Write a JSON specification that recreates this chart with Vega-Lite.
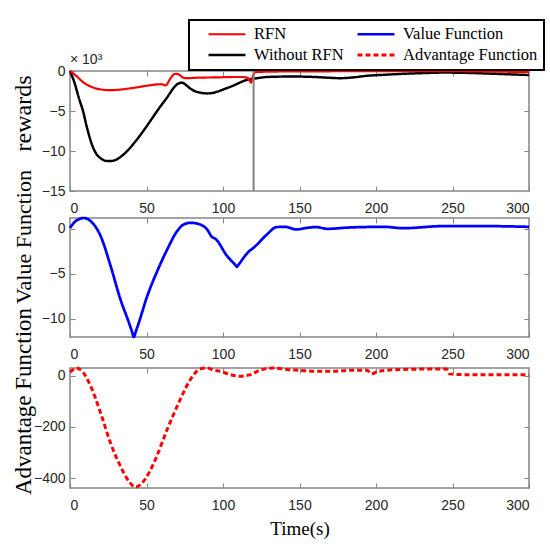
{
  "$schema": "https://vega.github.io/schema/vega-lite/v6.json",
  "background": "white",
  "padding": {"left": 10, "top": 19, "right": 5, "bottom": 5},
  "bounds": "flush",
  "spacing": 27,
  "datasets": {
    "rewards": [
      {"t": 0, "series": "Without RFN", "reward": 0},
      {"t": 3, "series": "Without RFN", "reward": -1500},
      {"t": 6, "series": "Without RFN", "reward": -3500},
      {"t": 8.5, "series": "Without RFN", "reward": -5000},
      {"t": 11, "series": "Without RFN", "reward": -7000},
      {"t": 14, "series": "Without RFN", "reward": -9000},
      {"t": 17, "series": "Without RFN", "reward": -10300},
      {"t": 20, "series": "Without RFN", "reward": -10900},
      {"t": 24, "series": "Without RFN", "reward": -11250},
      {"t": 27, "series": "Without RFN", "reward": -11250},
      {"t": 31, "series": "Without RFN", "reward": -11000},
      {"t": 34, "series": "Without RFN", "reward": -10600},
      {"t": 37.4, "series": "Without RFN", "reward": -10000},
      {"t": 41.5, "series": "Without RFN", "reward": -9100},
      {"t": 46, "series": "Without RFN", "reward": -8000},
      {"t": 50.5, "series": "Without RFN", "reward": -6800},
      {"t": 54.8, "series": "Without RFN", "reward": -5600},
      {"t": 59, "series": "Without RFN", "reward": -4450},
      {"t": 63.5, "series": "Without RFN", "reward": -3300},
      {"t": 67.8, "series": "Without RFN", "reward": -2100},
      {"t": 70.5, "series": "Without RFN", "reward": -1600},
      {"t": 73.3, "series": "Without RFN", "reward": -1460},
      {"t": 75.5, "series": "Without RFN", "reward": -1700},
      {"t": 78.7, "series": "Without RFN", "reward": -2200},
      {"t": 82, "series": "Without RFN", "reward": -2550},
      {"t": 85, "series": "Without RFN", "reward": -2700},
      {"t": 89.6, "series": "Without RFN", "reward": -2800},
      {"t": 93, "series": "Without RFN", "reward": -2750},
      {"t": 96, "series": "Without RFN", "reward": -2600},
      {"t": 101, "series": "Without RFN", "reward": -2250},
      {"t": 107, "series": "Without RFN", "reward": -1800},
      {"t": 111, "series": "Without RFN", "reward": -1450},
      {"t": 115.6, "series": "Without RFN", "reward": -1100},
      {"t": 120, "series": "Without RFN", "reward": -960},
      {"t": 124, "series": "Without RFN", "reward": -850},
      {"t": 128.7, "series": "Without RFN", "reward": -750},
      {"t": 140, "series": "Without RFN", "reward": -700},
      {"t": 150, "series": "Without RFN", "reward": -700},
      {"t": 160, "series": "Without RFN", "reward": -750},
      {"t": 170, "series": "Without RFN", "reward": -850},
      {"t": 176.5, "series": "Without RFN", "reward": -900},
      {"t": 185, "series": "Without RFN", "reward": -800},
      {"t": 194, "series": "Without RFN", "reward": -600},
      {"t": 205, "series": "Without RFN", "reward": -480},
      {"t": 215.7, "series": "Without RFN", "reward": -370},
      {"t": 230, "series": "Without RFN", "reward": -270},
      {"t": 244, "series": "Without RFN", "reward": -200},
      {"t": 258, "series": "Without RFN", "reward": -230},
      {"t": 270, "series": "Without RFN", "reward": -300},
      {"t": 285, "series": "Without RFN", "reward": -400},
      {"t": 300, "series": "Without RFN", "reward": -500},
      {"t": 0, "series": "RFN", "reward": 0},
      {"t": 4, "series": "RFN", "reward": -600},
      {"t": 9, "series": "RFN", "reward": -1460},
      {"t": 15.6, "series": "RFN", "reward": -2100},
      {"t": 21, "series": "RFN", "reward": -2330},
      {"t": 26.5, "series": "RFN", "reward": -2400},
      {"t": 34, "series": "RFN", "reward": -2300},
      {"t": 41.7, "series": "RFN", "reward": -2100},
      {"t": 50, "series": "RFN", "reward": -1850},
      {"t": 57, "series": "RFN", "reward": -1670},
      {"t": 60, "series": "RFN", "reward": -1650},
      {"t": 62.4, "series": "RFN", "reward": -1800},
      {"t": 63.5, "series": "RFN", "reward": -1650},
      {"t": 64.6, "series": "RFN", "reward": -1250},
      {"t": 66.5, "series": "RFN", "reward": -700},
      {"t": 67.8, "series": "RFN", "reward": -420},
      {"t": 69.5, "series": "RFN", "reward": -350},
      {"t": 71, "series": "RFN", "reward": -420},
      {"t": 73.3, "series": "RFN", "reward": -750},
      {"t": 75.4, "series": "RFN", "reward": -900},
      {"t": 85, "series": "RFN", "reward": -830},
      {"t": 96, "series": "RFN", "reward": -800},
      {"t": 107, "series": "RFN", "reward": -750},
      {"t": 113, "series": "RFN", "reward": -750},
      {"t": 115.6, "series": "RFN", "reward": -830},
      {"t": 117.3, "series": "RFN", "reward": -1100},
      {"t": 118.3, "series": "RFN", "reward": -1460},
      {"t": 119.6, "series": "RFN", "reward": -600},
      {"t": 121, "series": "RFN", "reward": -150},
      {"t": 130, "series": "RFN", "reward": -80},
      {"t": 150, "series": "RFN", "reward": -50},
      {"t": 180, "series": "RFN", "reward": -30},
      {"t": 210, "series": "RFN", "reward": -20},
      {"t": 240, "series": "RFN", "reward": -10},
      {"t": 270, "series": "RFN", "reward": -60},
      {"t": 300, "series": "RFN", "reward": -130}
    ],
    "vf": [
      {"t": 0, "series": "Value Function", "v": 0.1},
      {"t": 3.7, "series": "Value Function", "v": 0.85},
      {"t": 9.1, "series": "Value Function", "v": 1.2},
      {"t": 13.5, "series": "Value Function", "v": 0.85},
      {"t": 20, "series": "Value Function", "v": -0.8},
      {"t": 26.5, "series": "Value Function", "v": -4.1},
      {"t": 33, "series": "Value Function", "v": -7.85},
      {"t": 38.5, "series": "Value Function", "v": -10.4},
      {"t": 40.5, "series": "Value Function", "v": -11.4},
      {"t": 41.7, "series": "Value Function", "v": -12.0},
      {"t": 43, "series": "Value Function", "v": -11.4},
      {"t": 45, "series": "Value Function", "v": -10.4},
      {"t": 50.4, "series": "Value Function", "v": -7.5},
      {"t": 57, "series": "Value Function", "v": -4.7},
      {"t": 63.5, "series": "Value Function", "v": -2.3},
      {"t": 70, "series": "Value Function", "v": -0.26},
      {"t": 74.3, "series": "Value Function", "v": 0.48},
      {"t": 78.7, "series": "Value Function", "v": 0.67},
      {"t": 85, "series": "Value Function", "v": 0.48},
      {"t": 89.6, "series": "Value Function", "v": -0.07},
      {"t": 92.8, "series": "Value Function", "v": -0.9},
      {"t": 95, "series": "Value Function", "v": -1.1},
      {"t": 102.6, "series": "Value Function", "v": -3.0},
      {"t": 108, "series": "Value Function", "v": -4.0},
      {"t": 109, "series": "Value Function", "v": -4.2},
      {"t": 110.5, "series": "Value Function", "v": -3.9},
      {"t": 113.5, "series": "Value Function", "v": -3.2},
      {"t": 116.7, "series": "Value Function", "v": -2.55},
      {"t": 120, "series": "Value Function", "v": -2.1},
      {"t": 128.7, "series": "Value Function", "v": -0.63},
      {"t": 135, "series": "Value Function", "v": 0.19},
      {"t": 140.7, "series": "Value Function", "v": 0.22},
      {"t": 148, "series": "Value Function", "v": -0.07},
      {"t": 155, "series": "Value Function", "v": 0.11},
      {"t": 161, "series": "Value Function", "v": 0.19},
      {"t": 168, "series": "Value Function", "v": 0.0},
      {"t": 183, "series": "Value Function", "v": 0.15},
      {"t": 205, "series": "Value Function", "v": 0.22},
      {"t": 218, "series": "Value Function", "v": 0.07},
      {"t": 244, "series": "Value Function", "v": 0.3},
      {"t": 270, "series": "Value Function", "v": 0.3},
      {"t": 300, "series": "Value Function", "v": 0.22}
    ],
    "af": [
      {"t": 0, "series": "Advantage Function", "a": 15},
      {"t": 1.5, "series": "Advantage Function", "a": 22},
      {"t": 3.7, "series": "Advantage Function", "a": 31},
      {"t": 8, "series": "Advantage Function", "a": 18},
      {"t": 13.5, "series": "Advantage Function", "a": -40},
      {"t": 20, "series": "Advantage Function", "a": -145},
      {"t": 26.5, "series": "Advantage Function", "a": -263},
      {"t": 33, "series": "Advantage Function", "a": -354},
      {"t": 38.5, "series": "Advantage Function", "a": -413},
      {"t": 42.8, "series": "Advantage Function", "a": -435},
      {"t": 48, "series": "Advantage Function", "a": -413},
      {"t": 54.8, "series": "Advantage Function", "a": -341},
      {"t": 63.5, "series": "Advantage Function", "a": -210},
      {"t": 72, "series": "Advantage Function", "a": -93},
      {"t": 78.7, "series": "Advantage Function", "a": -14},
      {"t": 85, "series": "Advantage Function", "a": 27},
      {"t": 89.6, "series": "Advantage Function", "a": 31},
      {"t": 94, "series": "Advantage Function", "a": 22},
      {"t": 98, "series": "Advantage Function", "a": 18},
      {"t": 104.8, "series": "Advantage Function", "a": 5},
      {"t": 111, "series": "Advantage Function", "a": -1},
      {"t": 118, "series": "Advantage Function", "a": 5},
      {"t": 124, "series": "Advantage Function", "a": 22},
      {"t": 133, "series": "Advantage Function", "a": 31},
      {"t": 141.7, "series": "Advantage Function", "a": 25},
      {"t": 150, "series": "Advantage Function", "a": 22},
      {"t": 163.5, "series": "Advantage Function", "a": 18},
      {"t": 172, "series": "Advantage Function", "a": 18},
      {"t": 183, "series": "Advantage Function", "a": 22},
      {"t": 194, "series": "Advantage Function", "a": 22},
      {"t": 197, "series": "Advantage Function", "a": 8},
      {"t": 201.5, "series": "Advantage Function", "a": 18},
      {"t": 215.6, "series": "Advantage Function", "a": 25},
      {"t": 237, "series": "Advantage Function", "a": 27},
      {"t": 246, "series": "Advantage Function", "a": 27},
      {"t": 248, "series": "Advantage Function", "a": 8},
      {"t": 259, "series": "Advantage Function", "a": 5},
      {"t": 300, "series": "Advantage Function", "a": 5}
    ],
    "marker": [{"t": 120}]
  },
  "config": {
    "font": "Liberation Sans",
    "view": {"stroke": "#858585", "strokeWidth": 1.5},
    "axis": {
      "grid": false,
      "domain": false,
      "tickColor": "#858585",
      "tickWidth": 1,
      "tickSize": -5,
      "labelFont": "Liberation Sans",
      "labelFontSize": 14,
      "labelColor": "#262626",
      "titleFont": "Liberation Serif",
      "titleFontWeight": "normal",
      "titleFontSize": 22,
      "titleColor": "#000000"
    },
    "axisBottom": {"labelPadding": 15},
    "axisLeft": {"labelPadding": 10, "titleX": -47, "titleBaseline": "middle", "titleAlign": "center", "titleAngle": -90},
    "axisTop": {"labels": false, "title": null},
    "axisRight": {"labels": false, "title": null},
    "legend": {
      "orient": "none",
      "legendX": 119,
      "legendY": -51,
      "columns": 2,
      "title": null,
      "strokeColor": "#000000",
      "strokeWidth": 2,
      "fillColor": "white",
      "padding": 6,
      "labelFont": "Liberation Serif",
      "labelFontSize": 16.5,
      "labelColor": "#000000",
      "symbolType": "stroke",
      "symbolSize": 1369,
      "symbolOffset": 12,
      "labelOffset": 7,
      "clipHeight": 16,
      "columnPadding": -26,
      "rowPadding": 4
    }
  },
  "vconcat": [
    {
      "width": 459,
      "height": 120,
      "title": {"text": "× 10³", "anchor": "start", "frame": "group", "fontSize": 14, "font": "Liberation Sans", "fontWeight": "normal", "color": "#262626", "offset": -3},
      "resolve": {"axis": {"x": "independent", "y": "independent"}},
      "layer": [
        {
          "data": {"name": "rewards"},
          "mark": {"type": "line", "interpolate": "monotone"},
          "encoding": {
            "x": {"field": "t", "type": "quantitative", "scale": {"domain": [0, 300], "nice": false}, "axis": {"orient": "bottom", "values": [0, 50, 100, 150, 200, 250, 300], "title": null}},
            "y": {"field": "reward", "type": "quantitative", "scale": {"domain": [-15000, 0], "nice": false, "zero": false}, "axis": {"orient": "left", "values": [-15000, -10000, -5000, 0], "labelExpr": "format(datum.value / 1000, 'd')", "title": "rewards", "titleY": 42, "titleFontSize": 24}},
            "color": {"field": "series", "type": "nominal", "title": null, "scale": {"domain": ["RFN", "Without RFN", "Value Function", "Advantage Function"], "range": ["#ff0000", "#000000", "#0000ff", "#ff0000"]}},
            "strokeDash": {"field": "series", "type": "nominal", "title": null, "scale": {"domain": ["RFN", "Without RFN", "Value Function", "Advantage Function"], "range": [[1, 0], [1, 0], [1, 0], [5, 3]]}},
            "strokeWidth": {"field": "series", "type": "nominal", "title": null, "scale": {"domain": ["RFN", "Without RFN", "Value Function", "Advantage Function"], "range": [2.2, 3, 2.2, 2.2]}}
          }
        },
        {
          "data": {"name": "marker"},
          "mark": {"type": "rule", "color": "#808080", "strokeWidth": 2},
          "encoding": {"x": {"field": "t", "type": "quantitative", "axis": {"orient": "top", "values": [50, 100, 150, 200, 250]}}}
        },
        {
          "data": {"name": "rewards"},
          "mark": {"type": "point", "opacity": 0},
          "encoding": {
            "y": {"field": "reward", "type": "quantitative", "axis": {"orient": "right", "values": [-10000, -5000]}}
          }
        }
      ]
    },
    {
      "bounds": "flush",
      "spacing": 31,
      "vconcat": [
        {
          "width": 459,
          "height": 119,
          "resolve": {"axis": {"x": "independent", "y": "independent"}},
          "layer": [
            {
              "data": {"name": "vf"},
              "mark": {"type": "line", "interpolate": "monotone"},
              "encoding": {
                "x": {"field": "t", "type": "quantitative", "scale": {"domain": [0, 300], "nice": false}, "axis": {"orient": "bottom", "values": [0, 50, 100, 150, 200, 250, 300], "title": null}},
                "y": {"field": "v", "type": "quantitative", "scale": {"domain": [-12, 1.2], "nice": false, "zero": false}, "axis": {"orient": "left", "values": [-10, -5, 0], "title": "Value Function", "titleY": 18.5, "titleFontSize": 22}},
                "color": {"field": "series", "type": "nominal", "title": null},
                "strokeDash": {"field": "series", "type": "nominal", "title": null},
                "strokeWidth": {"field": "series", "type": "nominal", "title": null}
              }
            },
            {
              "data": {"name": "vf"},
              "mark": {"type": "point", "opacity": 0},
              "encoding": {
                "x": {"field": "t", "type": "quantitative", "axis": {"orient": "top", "values": [50, 100, 150, 200, 250]}},
                "y": {"field": "v", "type": "quantitative", "axis": {"orient": "right", "values": [-10, -5, 0]}}
              }
            }
          ]
        },
        {
          "width": 459,
          "height": 120,
          "resolve": {"axis": {"x": "independent", "y": "independent"}},
          "layer": [
            {
              "data": {"name": "af"},
              "mark": {"type": "line", "interpolate": "monotone"},
              "encoding": {
                "x": {"field": "t", "type": "quantitative", "scale": {"domain": [0, 300], "nice": false}, "axis": {"orient": "bottom", "values": [0, 50, 100, 150, 200, 250, 300], "title": "Time(s)", "titleFontSize": 19, "titlePadding": 7}},
                "y": {"field": "a", "type": "quantitative", "scale": {"domain": [-439, 31], "nice": false, "zero": false}, "axis": {"orient": "left", "values": [-400, -200, 0], "title": "Advantage Function", "titleY": 33, "titleFontSize": 23}},
                "color": {"field": "series", "type": "nominal", "title": null},
                "strokeDash": {"field": "series", "type": "nominal", "title": null},
                "strokeWidth": {"field": "series", "type": "nominal", "title": null}
              }
            },
            {
              "data": {"name": "af"},
              "mark": {"type": "point", "opacity": 0},
              "encoding": {
                "x": {"field": "t", "type": "quantitative", "axis": {"orient": "top", "values": [50, 100, 150, 200, 250]}},
                "y": {"field": "a", "type": "quantitative", "axis": {"orient": "right", "values": [-400, -200, 0]}}
              }
            }
          ]
        }
      ]
    }
  ]
}
